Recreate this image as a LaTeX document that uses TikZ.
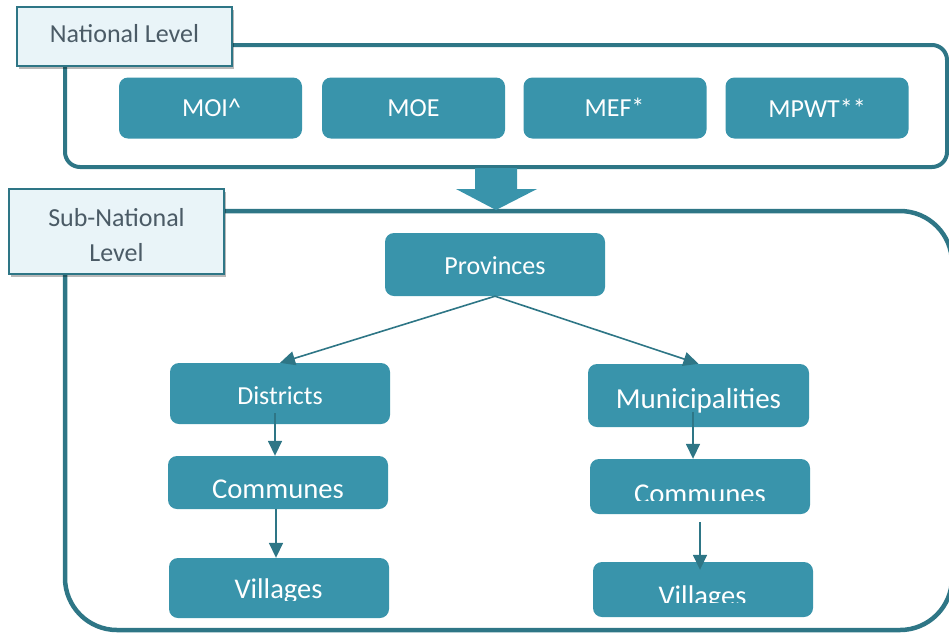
\documentclass[tikz,border=0pt]{standalone}
\usepackage{fontspec}
\setmainfont{Carlito}
\usetikzlibrary{arrows.meta,shadows}

\definecolor{boxfill}{HTML}{3994AB}
\definecolor{frameline}{HTML}{2E7686}
\definecolor{tagfill}{HTML}{E9F4F8}
\definecolor{tagtext}{HTML}{4B5B66}

\begin{document}
\begin{tikzpicture}[x=1pt,y=-1pt,
  frame/.style={draw=frameline, line width=4pt, rounded corners=#1},
  tag/.style={fill=tagfill, draw=frameline, line width=1.4pt, inner sep=0pt,
    drop shadow={shadow xshift=2pt, shadow yshift=-3pt, opacity=0.28, fill=black}},
  unit/.style={fill=boxfill, draw=none, rounded corners=9pt, inner sep=0pt},
  tagtxt/.style={anchor=base, inner sep=0pt, text=tagtext, font=\fontsize{26}{30}\selectfont},
  unittxt/.style={anchor=base, inner sep=0pt, text=white, font=\fontsize{#1}{30}\selectfont},
  unittxt/.default=26,
  link/.style={draw=frameline, line width=1.6pt, -{Triangle[length=15pt,width=14pt]}},
]
\useasboundingbox (0,0) rectangle (949,633);

% level frames
\draw[frame=15pt] (65,45) rectangle (947,167);
\draw[frame=52pt, line width=4.5pt] (65,211) rectangle (952,630);

% block arrow between the levels
\fill[boxfill] (475,168) -- (517,168) -- (517,189) -- (537,189) -- (496,210)
  -- (456,189) -- (475,189) -- cycle;

% level tags
\node[tag, minimum width=215pt, minimum height=59pt] (natTag) at (124.5,36.5) {};
\node[tagtxt] (natTxt) at (124.5,42.7) {National Level};
\node[tag, minimum width=215pt, minimum height=85pt] (subTag) at (116.5,231.5) {};
\node[tagtxt] (subTxtA) at (116.5,226) {Sub-National};
\node[tagtxt] (subTxtB) at (116.5,261.5) {Level};

% national units
\node[unit, minimum width=183pt, minimum height=61pt] (moi)  at (210.5,108) {};
\node[unit, minimum width=183pt, minimum height=61pt] (moe)  at (413.5,108) {};
\node[unit, minimum width=183pt, minimum height=61pt] (mef)  at (615,108) {};
\node[unit, minimum width=183pt, minimum height=61pt] (mpwt) at (817,108) {};
\node[unittxt] (moiTxt)  at (211.5,116) {MOI\^{}};
\node[unittxt] (moeTxt)  at (413.5,116.5) {MOE};
\node[unittxt] (mefTxt)  at (614.5,116.5) {MEF*};
\node[unittxt] (mpwtTxt) at (817,117.5) {MPWT**};

% sub-national units
\node[unit, minimum width=220pt, minimum height=63pt] (prov)  at (495,264.5) {};
\node[unit, minimum width=220pt, minimum height=61pt] (dist)  at (280,393.5) {};
\node[unit, minimum width=220pt, minimum height=53pt] (comL)  at (278,482.5) {};
\node[unit, minimum width=220pt, minimum height=60pt] (villL) at (279,588) {};
\node[unit, minimum width=221pt, minimum height=63pt] (muni)  at (698.5,395.5) {};
\node[unit, minimum width=220pt, minimum height=55pt] (comR)  at (700,486.5) {};
\node[unit, minimum width=220pt, minimum height=55pt] (villR) at (703,589.5) {};

% connectors
\draw[link] (prov.south) -- (dist.north);
\draw[link] (prov.south) -- (muni.north);
\draw[link] ([xshift=-5pt,yshift=11pt]dist.south) -- ([xshift=-3pt]comL.north);
\draw[link] ([xshift=-2pt]comL.south) -- ([xshift=-3pt]villL.north);
\draw[link] ([xshift=-5.5pt,yshift=15pt]muni.south) -- ([xshift=-7pt]comR.north);
\draw[link] ([yshift=-8pt]comR.south) -- ([xshift=-3pt,yshift=-8pt]villR.north);

% unit names
\node[unittxt] (provTxt) at (495,274) {Provinces};
\node[unittxt] (distTxt) at (280,404) {Districts};
\node[unittxt=29] (muniTxt) at (698.5,408) {Municipalities};
\begin{scope}
  \clip (168,456) rectangle (388,497);
  \node[unittxt=28.7] (comLTxt) at (278,498.5) {Communes};
\end{scope}
\begin{scope}
  \clip (169,558) rectangle (389,600);
  \node[unittxt=28.5] (villLTxt) at (278.5,598.5) {Villages};
\end{scope}
\begin{scope}
  \clip (590,459) rectangle (810,500);
  \node[unittxt=28.7] (comRTxt) at (700,503.7) {Communes};
\end{scope}
\begin{scope}
  \clip (593,562) rectangle (813,602);
  \node[unittxt=28.5] (villRTxt) at (702.5,605.5) {Villages};
\end{scope}
\end{tikzpicture}
\end{document}
